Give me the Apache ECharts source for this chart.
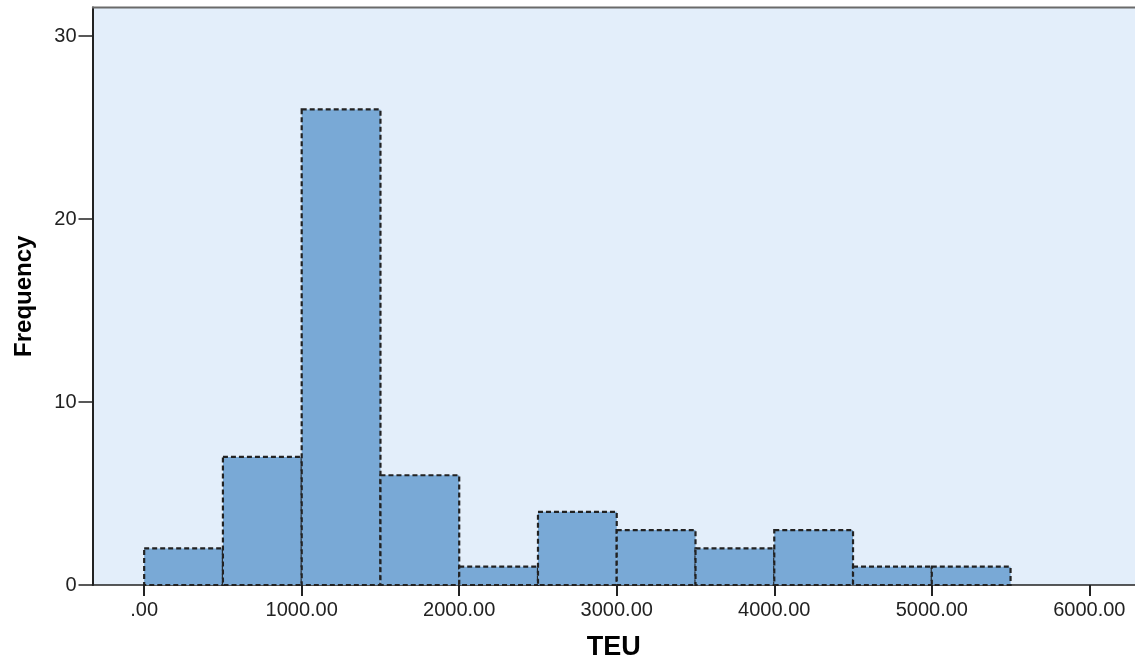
<!DOCTYPE html>
<html>
<head>
<meta charset="utf-8">
<script src="https://cdn.jsdelivr.net/npm/echarts@6/dist/echarts.min.js"></script>
<style>
html,body{margin:0;padding:0;background:#fff;}
#chart{width:1135px;height:658px;}
</style>
</head>
<body>
<div id="chart"></div>
<script>
const binStart = [0, 500, 1000, 1500, 2000, 2500, 3000, 3500, 4000, 4500, 5000];
const binEnd   = [500, 1000, 1500, 2000, 2500, 3000, 3500, 4000, 4500, 5000, 5500];
const frequency = [2, 7, 26, 6, 1, 4, 3, 2, 3, 1, 1];
const xTicks = [0, 1000, 2000, 3000, 4000, 5000, 6000];
const yTicks = [0, 10, 20, 30];
const xTitle = 'TEU';
const yTitle = 'Frequency';

const data = binStart.map((s, i) => [s, binEnd[i], frequency[i]]);

const chart = echarts.init(document.getElementById('chart'), null, {renderer: 'canvas'});
const font = 'Liberation Sans, Arial, sans-serif';

chart.setOption({
  animation: false,
  backgroundColor: '#ffffff',
  grid: {
    left: 92.5, right: 0, top: 7.5, bottom: 73,
    containLabel: false,
    outerBoundsMode: 'none',
    show: true,
    backgroundColor: '#E3EEFA',
    borderWidth: 0
  },
  xAxis: {
    type: 'value',
    min: -328,
    max: 6290,
    name: xTitle,
    nameLocation: 'middle',
    nameGap: 49,
    nameTextStyle: {fontFamily: font, fontSize: 27, fontWeight: 'bold', color: '#000'},
    axisLine: {show: true, onZero: false, lineStyle: {color: '#222', width: 1.5}},
    axisTick: {show: true, customValues: xTicks, length: 11, lineStyle: {color: '#222', width: 2}},
    axisLabel: {
      customValues: xTicks,
      margin: 15,
      fontFamily: font, fontSize: 20, color: '#222',
      formatter: v => v === 0 ? '.00' : v.toFixed(2)
    },
    splitLine: {show: false}
  },
  yAxis: {
    type: 'value',
    min: 0,
    max: 31.57,
    name: yTitle,
    nameLocation: 'middle',
    nameGap: 56,
    nameTextStyle: {fontFamily: font, fontSize: 24, fontWeight: 'bold', color: '#000'},
    axisLine: {show: true, onZero: false, lineStyle: {color: '#222', width: 2}},
    axisTick: {show: true, customValues: yTicks, length: 14, lineStyle: {color: '#222', width: 1.5}},
    axisLabel: {
      customValues: yTicks,
      margin: 16,
      fontFamily: font, fontSize: 20, color: '#222'
    },
    splitLine: {show: false}
  },
  graphic: [{
    type: 'line',
    shape: {x1: 92, y1: 7.5, x2: 1135, y2: 7.5},
    style: {stroke: '#6a6a6a', lineWidth: 2},
    z: 10
  }],
  series: [{
    type: 'custom',
    data: data,
    encode: {x: [0, 1], y: 2},
    renderItem: function (params, api) {
      const p0 = api.coord([api.value(0), api.value(2)]);
      const p1 = api.coord([api.value(1), 0]);
      return {
        type: 'rect',
        shape: {x: p0[0], y: p0[1], width: p1[0] - p0[0], height: p1[1] - p0[1]},
        style: {fill: '#79A9D6', stroke: '#222', lineWidth: 2.2, lineDash: [5, 3]}
      };
    }
  }]
});
</script>
</body>
</html>
